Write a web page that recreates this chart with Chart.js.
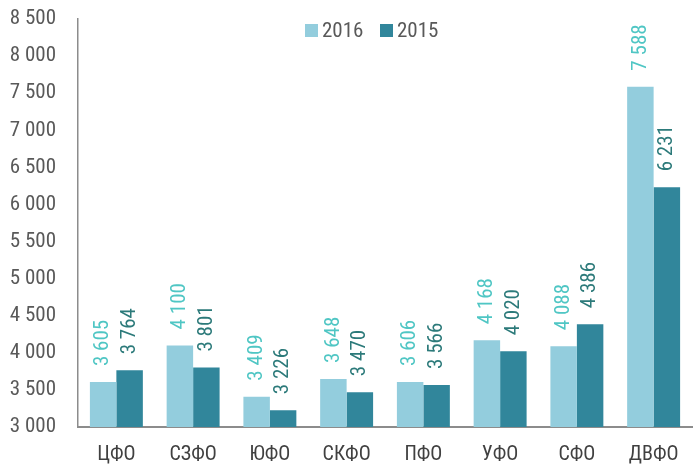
<!DOCTYPE html>
<html>
<head>
<meta charset="utf-8">
<script src="https://cdn.jsdelivr.net/npm/chart.js@4/dist/chart.umd.min.js"></script>
<style>
  html, body { margin: 0; padding: 0; background: #fff; }
  #wrap { width: 696px; height: 466px; }
</style>
</head>
<body>
<div id="wrap"><canvas id="chart" width="696" height="466"></canvas></div>
<script>
//-----------------------------------------------------------------------------
// data
//-----------------------------------------------------------------------------
const districts = ["ЦФО", "СЗФО", "ЮФО", "СКФО", "ПФО", "УФО", "СФО", "ДВФО"];
const values2016 = [3605, 4100, 3409, 3648, 3606, 4168, 4088, 7588];
const values2015 = [3764, 3801, 3226, 3470, 3566, 4020, 4386, 6231];
const seriesNames = ["2016", "2015"];

const FONT = "'Roboto Condensed', 'Liberation Sans Narrow', 'Roboto', sans-serif";
const barColors = ["#93cddd", "#31869b"];
const labelColors = ["#4fc6c4", "#2c7a7a"];

// 8 500 style thousands separator
const fmt = v => String(v).replace(/\B(?=(\d{3})+(?!\d))/g, " ");

//-----------------------------------------------------------------------------
// rotated value labels above each bar
//-----------------------------------------------------------------------------
const valueLabels = {
    id: "valueLabels",
    afterDatasetsDraw(chart) {
        const ctx = chart.ctx;
        chart.data.datasets.forEach((ds, i) => {
            const meta = chart.getDatasetMeta(i);
            meta.data.forEach((bar, j) => {
                ctx.save();
                ctx.translate(bar.x, bar.y - 16);
                ctx.rotate(-Math.PI / 2);
                ctx.font = `21px ${FONT}`;
                ctx.fillStyle = labelColors[i];
                ctx.textAlign = "left";
                ctx.textBaseline = "middle";
                ctx.fillText(fmt(ds.data[j]), 0, 0);
                ctx.restore();
            });
        });
    }
};

//-----------------------------------------------------------------------------
// legend drawn by hand so it sits inside the plot, like the reference
//-----------------------------------------------------------------------------
const topLegend = {
    id: "topLegend",
    afterDraw(chart) {
        const ctx = chart.ctx;
        ctx.save();
        ctx.font = `21px ${FONT}`;
        ctx.textBaseline = "middle";
        let x = 305;
        const y = 31;
        chart.data.datasets.forEach((ds, i) => {
            ctx.fillStyle = barColors[i];
            ctx.fillRect(x, y - 7, 13, 13);
            ctx.fillStyle = "#595959";
            ctx.fillText(ds.label, x + 17, y + 1);
            x += 75;
        });
        ctx.restore();
    }
};

const ctx = document.getElementById("chart").getContext("2d");
new Chart(ctx, {
    type: "bar",
    data: {
        labels: districts,
        datasets: [
            { label: seriesNames[0], data: values2016, backgroundColor: barColors[0] },
            { label: seriesNames[1], data: values2015, backgroundColor: barColors[1] }
        ]
    },
    options: {
        responsive: false,
        animation: false,
        devicePixelRatio: 1,
        datasets: { bar: { categoryPercentage: 0.69, barPercentage: 1.0 } },
        layout: { padding: { top: 19, right: 4, left: 0, bottom: 0 } },
        plugins: {
            legend: { display: false },
            tooltip: { enabled: false }
        },
        scales: {
            y: {
                min: 3000,
                max: 8500,
                afterFit: scale => {
                    scale.width = 78;
                    // let the top tick label hang over the padding
                    scale.paddingTop = 0;
                    scale.paddingBottom = 0;
                },
                border: { display: true, color: "#8c8c8c", width: 1.5 },
                grid: { display: false },
                ticks: {
                    stepSize: 500,
                    padding: 14,
                    color: "#595959",
                    font: { family: FONT, size: 21 },
                    callback: v => fmt(v)
                }
            },
            x: {
                afterFit: scale => { scale.height = 39; },
                border: { display: true, color: "#8c8c8c", width: 2 },
                grid: { display: false, drawTicks: false },
                ticks: {
                    padding: 16,
                    color: "#404040",
                    font: { family: FONT, size: 20 }
                }
            }
        }
    },
    plugins: [valueLabels, topLegend]
});
</script>
</body>
</html>
